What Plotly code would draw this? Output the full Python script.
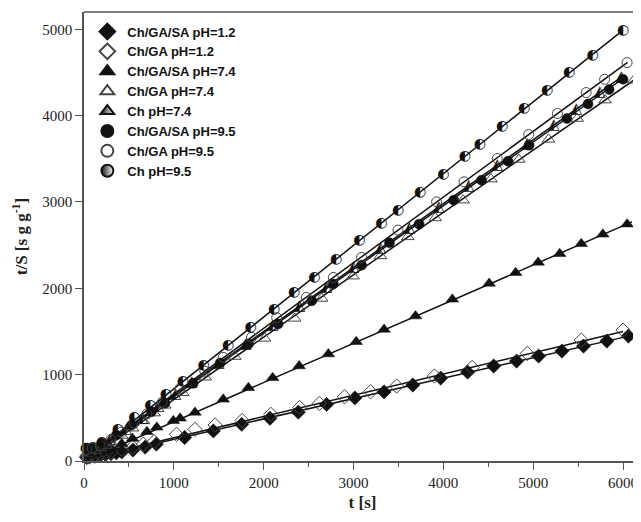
import plotly.graph_objects as go

# ---------------- data ----------------
names = ["Ch/GA/SA pH=1.2", "Ch/GA pH=1.2", "Ch/GA/SA pH=7.4", "Ch/GA pH=7.4",
         "Ch pH=7.4", "Ch/GA/SA pH=9.5", "Ch/GA pH=9.5", "Ch pH=9.5"]

t_gasa12 = [30, 60, 120, 180, 240, 300, 360, 420, 545, 680, 805, 1120, 1440, 1755, 2070,
            2385, 2700, 3015, 3340, 3660, 3970, 4270, 4560, 4815, 5060, 5320, 5560, 5820, 6060]
v_gasa12 = [40, 45, 55, 65, 75, 85, 95, 105, 127, 160, 195, 272, 348, 425, 495,
            565, 655, 730, 800, 880, 960, 1030, 1100, 1157, 1215, 1273, 1331, 1389, 1447]

t_ga12 = [30, 60, 120, 180, 240, 300, 420, 540, 660, 780, 1030, 1235, 1460, 1760, 2080,
          2400, 2620, 2900, 3190, 3480, 3900, 4320, 4935, 5535, 6000]
v_ga12 = [55, 60, 70, 85, 95, 105, 135, 160, 195, 225, 309, 366, 417, 470, 540,
          620, 667, 744, 802, 868, 984, 1084, 1246, 1400, 1516]

t_gasa74 = [30, 60, 120, 180, 240, 300, 420, 540, 700, 810, 995, 1070, 1235, 1550, 1830,
            2100, 2395, 2720, 3030, 3340, 3690, 4100, 4510, 4805, 5055, 5295, 5535, 5775, 6045]
v_gasa74 = [70, 75, 90, 110, 130, 150, 200, 260, 339, 390, 467, 494, 563, 714, 849,
            964, 1100, 1238, 1381, 1524, 1678, 1872, 2056, 2180, 2300, 2400, 2515, 2625, 2743]

t_ga74 = [30, 60, 120, 180, 240, 300, 420, 540, 660, 780, 900, 1100, 1350, 1680, 2010,
          2345, 2645, 2995, 3300, 3605, 3910, 4220, 4530, 4840, 5170, 5490, 5800, 6120]
v_ga74 = [90, 100, 120, 150, 180, 215, 295, 380, 465, 555, 645, 790, 970, 1210, 1420,
          1652, 1883, 2141, 2375, 2596, 2815, 3021, 3265, 3492, 3725, 3966, 4180, 4410]

t_ch74 = [110, 290, 470, 650, 830, 1020, 1200, 1500, 1800, 2100,
          2400, 2700, 3000, 3300, 3620, 3950, 4280, 4600, 4930, 5230, 5480, 5740, 5980]
v_ch74 = [130, 250, 370, 500, 630, 775, 910, 1130, 1352, 1574,
          1796, 2018, 2240, 2462, 2699, 2943, 3187, 3424, 3668, 3890, 4075, 4268, 4445]

t_gasa95 = [30, 100, 200, 360, 530, 750, 900, 1215, 1515, 1830, 2160, 2535, 2775, 3090,
            3400, 3730, 4115, 4425, 4720, 4955, 5375, 5610, 5845, 6000]
v_gasa95 = [150, 160, 205, 300, 417, 571, 668, 899, 1134, 1354, 1586, 1855, 2049, 2268,
            2527, 2743, 3021, 3252, 3472, 3657, 3966, 4135, 4302, 4421]

t_ga95 = [30, 90, 180, 300, 420, 560, 700, 870, 1070, 1345, 1550, 1865, 2145, 2475, 2775,
          3090, 3495, 3925, 4230, 4600, 4950, 5270, 5590, 5795, 6045]
v_ga95 = [140, 150, 175, 245, 335, 440, 545, 680, 841, 1040, 1200, 1432, 1660, 1894, 2126,
          2358, 2674, 3001, 3233, 3503, 3781, 4024, 4267, 4421, 4614]

t_ch95 = [20, 200, 378, 560, 740, 912, 1100, 1330, 1605, 1855, 2115, 2340,
          2565, 2805, 3065, 3310, 3495, 3740, 4000, 4240, 4405, 4655, 4900, 5155, 5400, 5660, 6000]
v_ch95 = [150, 210, 370, 500, 640, 775, 920, 1110, 1343, 1547, 1756, 1950,
          2126, 2334, 2550, 2751, 2905, 3110, 3322, 3530, 3665, 3869, 4082, 4286, 4494, 4699, 4988]

# linear-fit line end points (t = 0 and t_end)
fit_t0 = [0, 0, 0, 0, 0, 0, 0, 0]
fit_v0 = [15, 22, 0, -10, 20, 10, 15, 5]
fit_t1 = [6100, 6000, 6100, 6120, 6000, 6000, 6050, 6000]
fit_v1 = [1455, 1500, 2770, 4410, 4460, 4430, 4616, 4990]

x_ticks = [0, 1000, 2000, 3000, 4000, 5000, 6000]
y_ticks = [0, 1000, 2000, 3000, 4000, 5000]

# ---------------- figure ----------------
series_t = [t_gasa12, t_ga12, t_gasa74, t_ga74, t_ch74, t_gasa95, t_ga95, t_ch95]
series_v = [v_gasa12, v_ga12, v_gasa74, v_ga74, v_ch74, v_gasa95, v_ga95, v_ch95]

blk = "#111111"
gry = "#444444"
markers = [
    dict(symbol="diamond", size=11, color=blk, line=dict(color=blk, width=0.5)),
    dict(symbol="diamond-open", size=11, color=gry, line=dict(color=gry, width=1)),
    dict(symbol="triangle-up", size=11, color=blk, line=dict(color=blk, width=0.5)),
    dict(symbol="triangle-up-open", size=11, color=gry, line=dict(color=gry, width=1)),
    dict(symbol="triangle-up", size=11, color=blk, line=dict(color=blk, width=1),
         gradient=dict(type="horizontal", color="white")),
    dict(symbol="circle", size=10, color=blk, line=dict(color=blk, width=0.5)),
    dict(symbol="circle-open", size=10, color=gry, line=dict(color=gry, width=1)),
    dict(symbol="circle", size=10, color=blk, line=dict(color=blk, width=1),
         gradient=dict(type="horizontal", color="white")),
]
# half-filled symbols are drawn as glyphs on the data points
glyphs = [None, None, None, None, "\u25ED", None, None, "\u25D0"]
glyph_size = [0, 0, 0, 0, 15, 0, 0, 14]

fig = go.Figure()

# fit lines
for i in range(len(names)):
    fig.add_trace(go.Scatter(
        x=[fit_t0[i], fit_t1[i]], y=[fit_v0[i], fit_v1[i]], mode="lines",
        line=dict(color=blk, width=1.5), showlegend=False, hoverinfo="skip"))

# data markers
for i in range(len(names)):
    if glyphs[i] is None:
        fig.add_trace(go.Scatter(
            x=series_t[i], y=series_v[i], mode="markers", name=names[i],
            marker=markers[i], cliponaxis=False, legendgroup=names[i]))
    else:
        # legend entry
        fig.add_trace(go.Scatter(
            x=[None], y=[None], mode="markers", name=names[i],
            marker=markers[i], legendgroup=names[i]))
        fig.add_trace(go.Scatter(
            x=series_t[i], y=series_v[i], mode="text", name=names[i],
            text=[glyphs[i]] * len(series_t[i]), textposition="middle center",
            textfont=dict(family="DejaVu Sans", size=glyph_size[i], color=blk),
            cliponaxis=False, showlegend=False, legendgroup=names[i]))

axis_common = dict(
    showgrid=False, zeroline=False, showline=True, linecolor="#555555", linewidth=1.5,
    ticks="outside", ticklen=7, tickwidth=1.2, tickcolor="#555555", automargin=False,
    tickfont=dict(family="Liberation Serif", size=15, color="#222222"),
)

# the page body has an 8 px margin on the left/top, so the figure is 8 px smaller
fig.update_layout(
    width=633, height=514,
    margin=dict(l=76, r=0, t=4, b=61),
    paper_bgcolor="white", plot_bgcolor="white",
    xaxis=dict(range=[0, 6200], tickvals=x_ticks,
               minor=dict(dtick=500, ticks="outside", ticklen=4, tickcolor="#555555", tickwidth=1.2),
               title=dict(text="t [s]",
                          font=dict(family="Liberation Serif", size=17, color="#222222", weight="bold"),
                          standoff=6),
               **axis_common),
    yaxis=dict(range=[0, 5200], tickvals=y_ticks,
               title=dict(text="t/S [s g g<sup>-1</sup>]",
                          font=dict(family="Liberation Serif", size=17, color="#222222", weight="bold"),
                          standoff=10),
               **axis_common),
    legend=dict(x=0.006, y=0.99, xanchor="left", yanchor="top",
                bgcolor="rgba(0,0,0,0)", borderwidth=0,
                font=dict(family="Liberation Sans", size=13, color="#111111", weight="bold"),
                tracegroupgap=0, itemsizing="constant"),
    showlegend=True,
)

# top frame line
fig.add_shape(type="line", xref="paper", yref="paper", x0=0, x1=1, y0=1, y1=1,
              line=dict(color="#555555", width=1.5))

fig.write_html("out.html")
